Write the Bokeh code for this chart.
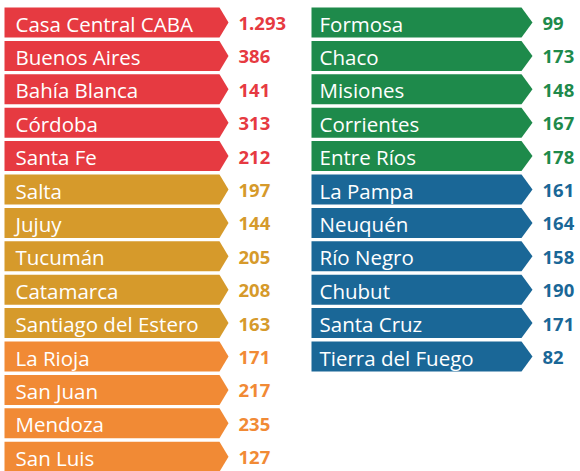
from bokeh.plotting import figure
from bokeh.models import Range1d, ColumnDataSource
from bokeh.embed import file_html
from bokeh.resources import INLINE
from bokeh.core.properties import value

# ---- data ----
left_names = ["Casa Central CABA", "Buenos Aires", "Bahía Blanca", "Córdoba", "Santa Fe",
              "Salta", "Jujuy", "Tucumán", "Catamarca", "Santiago del Estero",
              "La Rioja", "San Juan", "Mendoza", "San Luis"]
left_values = [1293, 386, 141, 313, 212, 197, 144, 205, 208, 163, 171, 217, 235, 127]
left_groups = ["red"] * 5 + ["gold"] * 5 + ["orange"] * 4

right_names = ["Formosa", "Chaco", "Misiones", "Corrientes", "Entre Ríos",
               "La Pampa", "Neuquén", "Río Negro", "Chubut", "Santa Cruz", "Tierra del Fuego"]
right_values = [99, 173, 148, 167, 178, 161, 164, 158, 190, 171, 82]
right_groups = ["green"] * 5 + ["blue"] * 6

palette = {"red": "#E63A41", "gold": "#D69A2B", "orange": "#F18A35",
           "green": "#1E8A4B", "blue": "#1A6797"}

# ---- layout (pixels) ----
W, H = 580, 471
TOP, PITCH, ROW_H = 7.0, 33.4, 30.0
columns = [
    dict(names=left_names, values=left_values, groups=left_groups,
         x0=4, body=219, tip=228, label_x=15, value_x=238),
    dict(names=right_names, values=right_values, groups=right_groups,
         x0=311, body=521, tip=532, label_x=319, value_x=542),
]

p = figure(width=W, height=H, output_backend="svg", toolbar_location=None,
           x_range=Range1d(0, W), y_range=Range1d(H, 0),
           x_axis_type=None, y_axis_type=None, min_border=0,
           background_fill_color="white", border_fill_color="white")
p.grid.visible = False
p.outline_line_color = None

FONT = "Open Sans"

for col in columns:
    xs, ys, colors, ly, vtxt = [], [], [], [], []
    for i, (n, v, g) in enumerate(zip(col["names"], col["values"], col["groups"])):
        t = TOP + i * PITCH
        b = t + ROW_H
        m = (t + b) / 2
        xs.append([col["x0"], col["body"], col["tip"], col["body"], col["x0"]])
        ys.append([t, t, m, b, b])
        colors.append(palette[g])
        ly.append(m + 1)
        vtxt.append(f"{v:,}".replace(",", "."))
    src = ColumnDataSource(dict(xs=xs, ys=ys, color=colors, names=col["names"],
                                ly=ly, lx=[col["label_x"]] * len(ly),
                                vx=[col["value_x"]] * len(ly), vtxt=vtxt))
    p.patches("xs", "ys", fill_color="color", line_color=None, source=src)
    p.text(x="lx", y="ly", text="names", source=src, text_color="white",
           text_font=value(FONT), text_font_size="20.5px", text_baseline="middle",
           text_align="left")
    p.text(x="vx", y="ly", text="vtxt", source=src, text_color="color",
           text_font=value(FONT), text_font_size="18.5px", text_font_style="bold",
           text_baseline="middle", text_align="left")

open("out.html", "w").write(file_html(p, INLINE))
